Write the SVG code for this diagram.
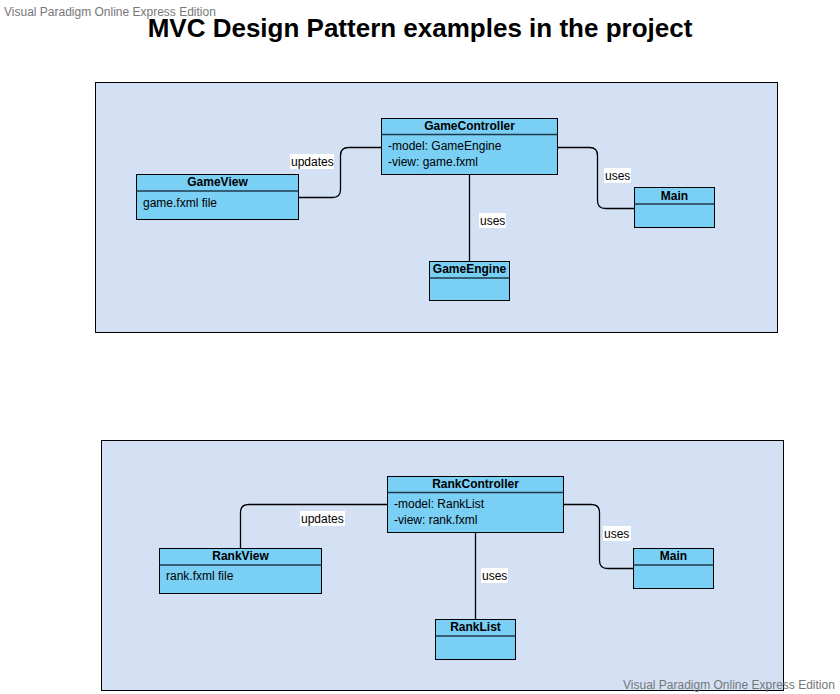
<svg xmlns="http://www.w3.org/2000/svg" width="840" height="694" viewBox="0 0 840 694">
<style>
text{font-family:"Liberation Sans",Arial,sans-serif;font-size:12px;fill:#000}
.wm{fill:#777;font-size:12px}
.title{font-size:26px;font-weight:bold}
.frame{fill:#D4E1F5;stroke:#000;stroke-width:1}
.box{fill:#7ACFF5;stroke:#000;stroke-width:1}
.div{stroke:#1E3A4A;stroke-width:1.5}
.hd{font-weight:bold;text-anchor:middle}
.conn path{fill:none;stroke:#000;stroke-width:1.3}
.lbg{fill:#fff}
</style>
<rect width="840" height="694" fill="#fff"/>
<text class="wm" x="4" y="16">Visual Paradigm Online Express Edition</text>
<text class="title" x="420" y="37" text-anchor="middle">MVC Design Pattern examples in the project</text>

<rect id="frame1" class="frame" x="95.5" y="82.5" width="682" height="250"/>
<rect id="frame2" class="frame" x="101.5" y="440.5" width="682" height="250"/>

<g id="connectors" class="conn">
<path d="M298.5 197.5 H332.5 Q340.5 197.5 340.5 189.5 V155.5 Q340.5 147.5 348.5 147.5 H381.5"/>
<path d="M557.5 147.5 H589.5 Q597.5 147.5 597.5 155.5 V200.5 Q597.5 208.5 605.5 208.5 H634.5"/>
<path d="M469.5 175 V261"/>
<path d="M387.5 504.5 H248.5 Q240.5 504.5 240.5 512.5 V548"/>
<path d="M563.5 504.5 H591.5 Q599.5 504.5 599.5 512.5 V560.5 Q599.5 568.5 607.5 568.5 H633.5"/>
<path d="M475.5 533 V619"/>
</g>
<g id="labels">
<rect class="lbg" x="290" y="154" width="44" height="15"/><text x="291" y="166">updates</text>
<rect class="lbg" x="604" y="168" width="27" height="15"/><text x="605" y="180">uses</text>
<rect class="lbg" x="479" y="213" width="27" height="15"/><text x="480" y="225">uses</text>
<rect class="lbg" x="300" y="511" width="45" height="15"/><text x="301" y="523">updates</text>
<rect class="lbg" x="603" y="526" width="28" height="15"/><text x="604" y="538">uses</text>
<rect class="lbg" x="481" y="568" width="27" height="15"/><text x="482" y="580">uses</text>
</g>

<g id="GameController">
<rect class="box" x="381.5" y="118.5" width="176" height="56"/>
<line class="div" x1="381.5" y1="134.5" x2="557.5" y2="134.5"/>
<text class="hd" x="469.5" y="130">GameController</text>
<text x="388" y="150">-model: GameEngine</text>
<text x="388" y="166">-view: game.fxml</text>
</g>
<g id="GameView">
<rect class="box" x="136.5" y="174.5" width="162" height="45"/>
<line class="div" x1="136.5" y1="191" x2="298.5" y2="191"/>
<text class="hd" x="217.5" y="186">GameView</text>
<text x="143" y="207">game.fxml file</text>
</g>
<g id="Main1">
<rect class="box" x="634.5" y="187.5" width="80" height="40"/>
<line class="div" x1="634.5" y1="204" x2="714.5" y2="204"/>
<text class="hd" x="674.5" y="200">Main</text>
</g>
<g id="GameEngine">
<rect class="box" x="429.5" y="261.5" width="80" height="39"/>
<line class="div" x1="429.5" y1="278" x2="509.5" y2="278"/>
<text class="hd" x="469.5" y="273">GameEngine</text>
</g>

<g id="RankController">
<rect class="box" x="387.5" y="476.5" width="176" height="56"/>
<line class="div" x1="387.5" y1="492.5" x2="563.5" y2="492.5"/>
<text class="hd" x="475.5" y="488">RankController</text>
<text x="394" y="508">-model: RankList</text>
<text x="394" y="524">-view: rank.fxml</text>
</g>
<g id="RankView">
<rect class="box" x="159.5" y="548.5" width="162" height="45"/>
<line class="div" x1="159.5" y1="565" x2="321.5" y2="565"/>
<text class="hd" x="240.5" y="560">RankView</text>
<text x="166" y="580">rank.fxml file</text>
</g>
<g id="Main2">
<rect class="box" x="633.5" y="548.5" width="80" height="40"/>
<line class="div" x1="633.5" y1="565" x2="713.5" y2="565"/>
<text class="hd" x="673.5" y="560">Main</text>
</g>
<g id="RankList">
<rect class="box" x="435.5" y="619.5" width="80" height="40"/>
<line class="div" x1="435.5" y1="636" x2="515.5" y2="636"/>
<text class="hd" x="475.5" y="631">RankList</text>
</g>

<text class="wm" x="623" y="689">Visual Paradigm Online Express Edition</text>
</svg>
